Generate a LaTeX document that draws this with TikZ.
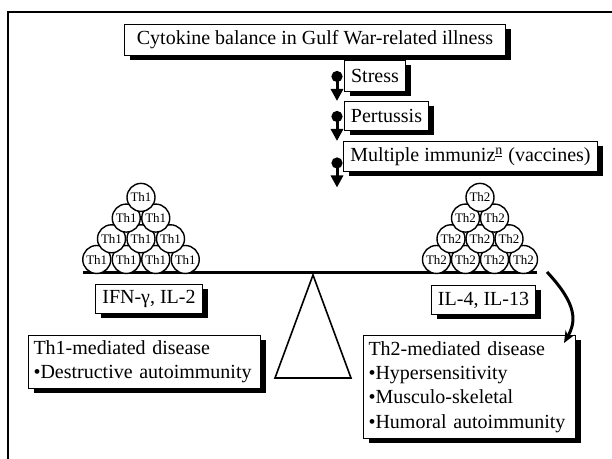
\documentclass[tikz,border=0pt]{standalone}
\usepackage{fontspec}
\setmainfont{Liberation Serif}
\usepackage{tikz}
\usetikzlibrary{arrows.meta,positioning,shadows,calc}

\begin{document}
\begin{tikzpicture}[
  x=0.5pt, y=-0.5pt,
  tag/.style={draw,line width=0.5pt,fill=white,anchor=north west,inner xsep=2.5pt,inner ysep=1pt,
    font=\fontsize{10}{12.2}\selectfont,
    drop shadow={shadow xshift=2.5pt,shadow yshift=-2.5pt,opacity=1,fill=black}},
  cell/.style={circle,draw,line width=0.7pt,fill=white,minimum size=14pt,inner sep=0pt,
    font=\fontsize{6.5}{6.5}\selectfont},
  cause/.style={{Circle[length=5.5pt]}-{Triangle[length=6pt,width=6pt]},line width=1.5pt},
  tilt/.style={-{Stealth[length=6pt,width=5pt]},line width=1.5pt}
]
  \useasboundingbox (0,0) rectangle (612,459);

  % Frame
  \draw[line width=1.4pt] (8,459) -- (8,12) -- (612,12);

  % Title and stressors
  \node[tag,minimum width=190.5pt,minimum height=15.5pt] (title) at (124,24)
    {Cytokine balance in Gulf War-related illness};
  \node[tag,minimum width=30.5pt,minimum height=15.5pt] (stress) at (344,60) {Stress};
  \node[tag,minimum width=42pt,minimum height=14.5pt] (pertussis) at (344,101) {Pertussis};
  \node[tag,minimum width=127pt,minimum height=15pt] (vaccines) at (343,141)
    {Multiple immuniz\textsuperscript{\underline{n}} (vaccines)};

  \draw[cause] ($(stress.west)+(-7,-5)$) -- ++(0,30);
  \draw[cause] ($(pertussis.west)+(-7,-5)$) -- ++(0,30);
  \draw[cause] ($(vaccines.west)+(-6,1)$) -- ++(0,30);

  % Balance
  \draw[line width=0.8pt,fill=white] (313,275) coordinate (apex) -- (275,378) -- (351,378) -- cycle;
  \draw[line width=1.5pt] (83,273) coordinate (beamL) -- (537,273) coordinate (beamR);

  % Th1 and Th2 piles
  \foreach \row/\n in {0/4,1/3,2/2,3/1}
    \foreach \i in {1,...,\n} {
      \node[cell] (thone-\row-\i) at ({141+(\i-(\n+1)/2)*29.5},{259.5-\row*20.7}) {Th1};
      \node[cell] (thtwo-\row-\i) at ({480+(\i-(\n+1)/2)*29},{259.5-\row*20.7}) {Th2};
    }

  % Cytokines
  \node[tag,minimum width=53.5pt,minimum height=14.5pt] (ifn) at (95,284) {IFN-γ, IL-2};
  \node[tag,minimum width=52pt,minimum height=14.5pt] (il) at (431,285) {IL-4, IL-13};

  % Diseases
  \node[tag,text width=111pt,minimum height=26.5pt,align=left] (thonedis) at (28,335)
    {Th1-mediated disease\\•Destructive autoimmunity};
  \node[tag,text width=101pt,minimum height=51.5pt,align=left] (thtwodis) at (363,335)
    {Th2-mediated disease\\•Hypersensitivity\\•Musculo-skeletal\\•Humoral autoimmunity};

  \coordinate (tip) at ($(beamR)+(10,-1)$);
  \draw[tilt] (tip) .. controls (578,305) and (576,322) .. ($(thtwodis.north east)+(-12,8)$);
\end{tikzpicture}
\end{document}
